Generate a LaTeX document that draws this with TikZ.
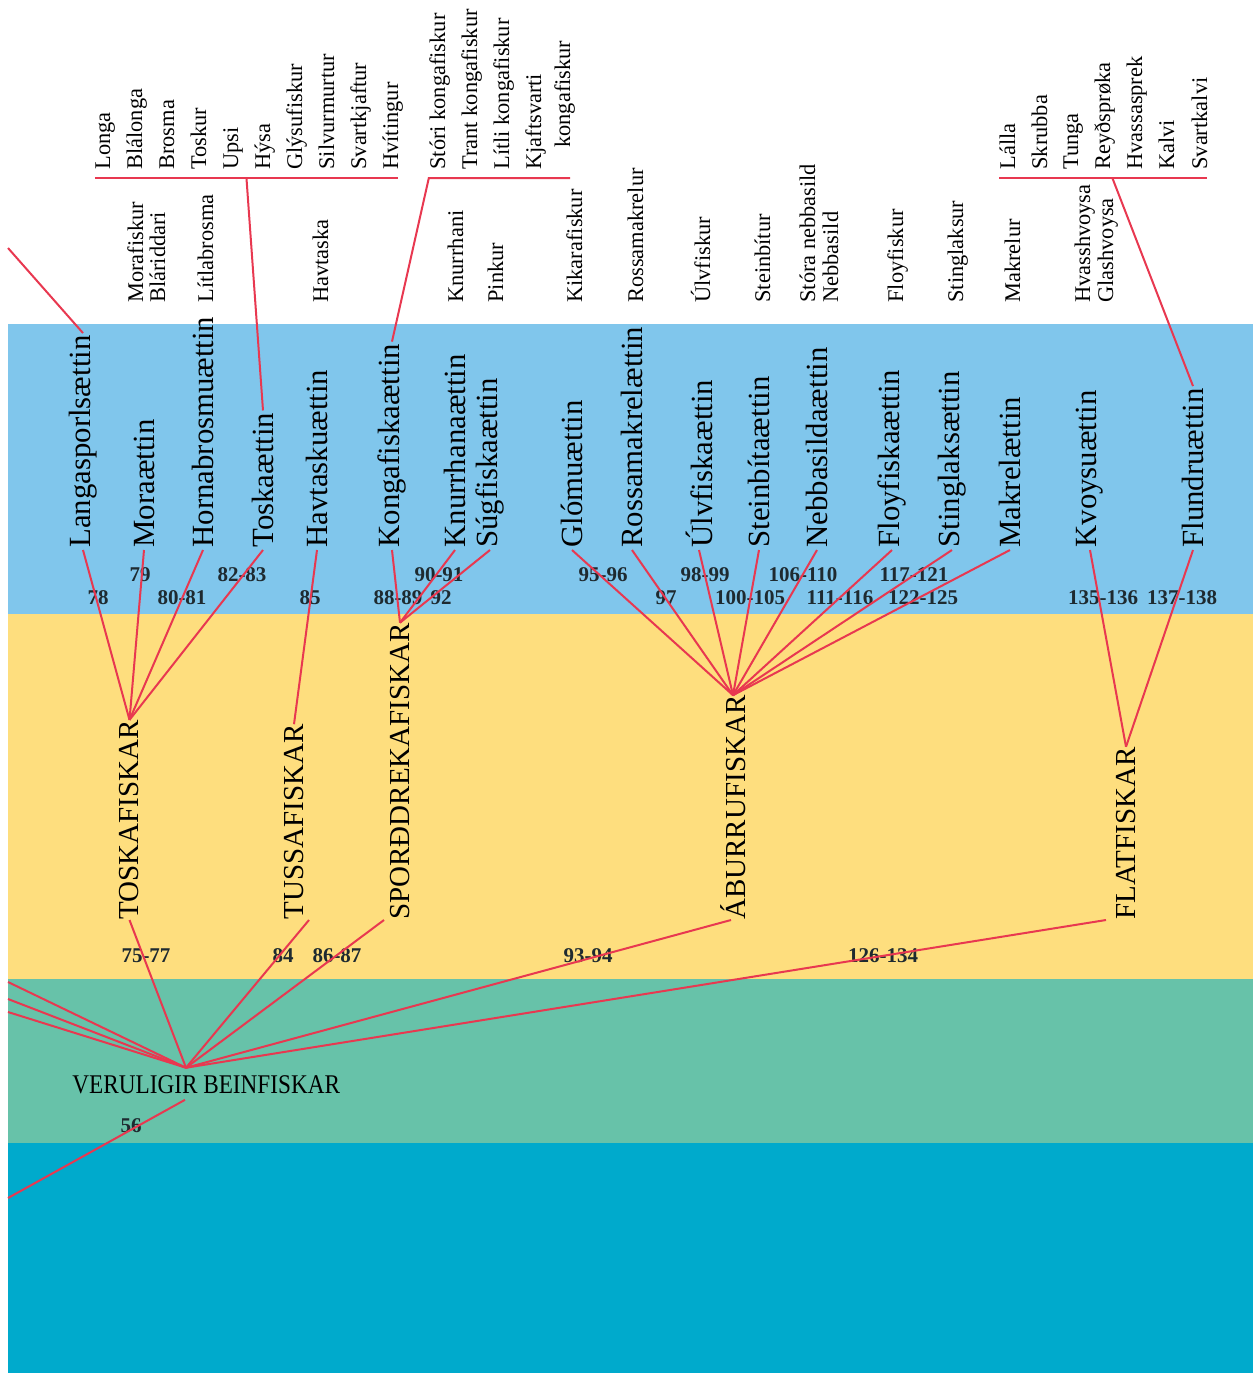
\documentclass[tikz,border=0pt]{standalone}
\usepackage{fontspec}
\setmainfont{Liberation Serif}
\usepackage{tikz}
\definecolor{bandblue}{RGB}{128,198,236}
\definecolor{bandyellow}{RGB}{254,222,126}
\definecolor{bandgreen}{RGB}{103,194,169}
\definecolor{bandcyan}{RGB}{0,170,204}
\definecolor{linkred}{RGB}{232,56,80}
\definecolor{numgray}{RGB}{30,42,48}
\tikzset{
  fam/.style={rotate=90, anchor=west, inner sep=1pt,
              font=\fontsize{15.4}{18}\selectfont},
  grp/.style={rotate=90, anchor=west, inner sep=0pt,
              font=\fontsize{14.5}{17}\selectfont},
  spec/.style={rotate=90, anchor=base west, inner sep=0pt,
               font=\fontsize{11.2}{13}\selectfont},
  num/.style={inner sep=0pt, text=numgray,
              font=\fontsize{10.5}{12}\selectfont\bfseries},
  link/.style={draw=linkred, line width=1pt},
}

\begin{document}
\begin{tikzpicture}[x=0.5pt, y=-0.5pt]
  \useasboundingbox (0,0) rectangle (1253,1373);
  % bands
  \fill[bandblue] (8,324) rectangle (1253,614);
  \fill[bandyellow] (8,614) rectangle (1253,979);
  \fill[bandgreen] (8,979) rectangle (1253,1143);
  \fill[bandcyan] (8,1143) rectangle (1253,1373);

  % species, upper row
  \node[spec] (lon) at (110,170) {Longa};
  \node[spec] (blal) at (142,170) {Blálonga};
  \node[spec] (bros) at (174,170) {Brosma};
  \node[spec] (tosku) at (206,170) {Toskur};
  \node[spec] (upsi) at (238,170) {Upsi};
  \node[spec] (hysa) at (270,170) {Hýsa};
  \node[spec] (glys) at (302,170) {Glýsufiskur};
  \node[spec] (silv) at (334,170) {Silvurmurtur};
  \node[spec] (svart) at (366,170) {Svartkjaftur};
  \node[spec] (hvit) at (398,170) {Hvítingur};
  \node[spec] (stori) at (445,170) {Stóri kongafiskur};
  \node[spec] (trant) at (477,170) {Trant kongafiskur};
  \node[spec] (litli) at (509,170) {Lítli kongafiskur};
  \node[spec] (kjaft) at (541,170) {Kjaftsvarti};
  \node[spec] (kjaftb) at (570,148) {kongafiskur};
  \node[spec] (lalla) at (1015,170) {Lálla};
  \node[spec] (skrub) at (1047,170) {Skrubba};
  \node[spec] (tunga) at (1078,170) {Tunga};
  \node[spec] (reyd) at (1110,170) {Reyðsprøka};
  \node[spec] (hvass) at (1142,170) {Hvassasprek};
  \node[spec] (kalvi) at (1174,170) {Kalvi};
  \node[spec] (svkal) at (1207,170) {Svartkalvi};

  % species, lower row
  \node[spec] (morf) at (143,303) {Morafiskur};
  \node[spec] (blar) at (165,303) {Bláriddari};
  \node[spec] (litb) at (213,303) {Lítlabrosma};
  \node[spec] (havs) at (328,303) {Havtaska};
  \node[spec] (knh) at (463,303) {Knurrhani};
  \node[spec] (pink) at (503,303) {Pinkur};
  \node[spec] (kik) at (582,303) {Kikarafiskur};
  \node[spec] (rosm) at (643,303) {Rossamakrelur};
  \node[spec] (ulvf) at (710,303) {Úlvfiskur};
  \node[spec] (steinb) at (770,303) {Steinbítur};
  \node[spec] (storn) at (815,303) {Stóra nebbasild};
  \node[spec] (nebs) at (838,303) {Nebbasild};
  \node[spec] (floyf) at (903,303) {Floyfiskur};
  \node[spec] (stingl) at (963,303) {Stinglaksur};
  \node[spec] (makrl) at (1020,303) {Makrelur};
  \node[spec] (hvash) at (1090,303) {Hvasshvoysa};
  \node[spec] (glas) at (1113,303) {Glashvoysa};

  % families
  \node[fam] (langa) at (83,550) {Langasporlsættin};
  \node[fam] (mora) at (144,550) {Moraættin};
  \node[fam] (horn) at (203,550) {Hornabrosmuættin};
  \node[fam] (tosk) at (263,550) {Toskaættin};
  \node[fam] (havt) at (317,550) {Havtaskuættin};
  \node[fam] (kong) at (392,550) {Kongafiskaættin};
  \node[fam] (knur) at (455,550) {Knurrhanaættin};
  \node[fam] (sug) at (490,550) {Súgfiskaættin};
  \node[fam] (glom) at (572,550) {Glómuættin};
  \node[fam] (ross) at (632,550) {Rossamakrelættin};
  \node[fam] (ulv) at (699,550) {Úlvfiskaættin};
  \node[fam] (stein) at (759,550) {Steinbítaættin};
  \node[fam] (nebb) at (817,550) {Nebbasildaættin};
  \node[fam] (floy) at (892,550) {Floyfiskaættin};
  \node[fam] (sting) at (952,550) {Stinglaksættin};
  \node[fam] (makr) at (1010,550) {Makrelættin};
  \node[fam] (kvoy) at (1090,550) {Kvoysuættin};
  \node[fam] (flund) at (1193,550) {Flundruættin};

  % orders
  \node[grp] (toskaf) at (129.5,920) {TOSKAFISKAR};
  \node[grp] (tussaf) at (294,920) {TUSSAFISKAR};
  \node[grp] (spord) at (400,920) {SPORÐDREKAFISKAR};
  \node[grp] (aburr) at (733,920) {ÁBURRUFISKAR};
  \node[grp] (flatf) at (1126,920) {FLATFISKAR};
  \node[anchor=base west, inner sep=0pt, font=\fontsize{13.5}{16}\selectfont]
    (vb) at (72,1093) {\scalebox{0.86}[1]{VERULIGIR BEINFISKAR}};

  % numbers
  \node[num] (n79) at (140,575) {79};
  \node[num] (n8283) at (242,575) {82-83};
  \node[num] (n78) at (98,598) {78};
  \node[num] (n8081) at (182,598) {80-81};
  \node[num] (n85) at (310,598) {85};
  \node[num] (n8889) at (398,598) {88-89};
  \node[num] (n9091) at (439,575) {90-91};
  \node[num] (n92) at (441,598) {92};
  \node[num] (n9596) at (603,575) {95-96};
  \node[num] (n97) at (666,598) {97};
  \node[num] (n9899) at (705,575) {98-99};
  \node[num] (n100) at (750,598) {100-105};
  \node[num] (n106) at (803,575) {106-110};
  \node[num] (n111) at (840,598) {111-116};
  \node[num] (n117) at (914,575) {117-121};
  \node[num] (n122) at (923,598) {122-125};
  \node[num] (n135) at (1103,598) {135-136};
  \node[num] (n137) at (1182,598) {137-138};
  \node[num] (n7577) at (146,956) {75-77};
  \node[num] (n84) at (283,956) {84};
  \node[num] (n8687) at (337,956) {86-87};
  \node[num] (n9394) at (588,956) {93-94};
  \node[num] (n126) at (883,956) {126-134};
  \node[num] (n56) at (131,1126) {56};

  % ends and joints
  \coordinate (vbup) at ([xshift=57pt,yshift=3.5pt]vb.north west);
  \coordinate (vbdown) at ([xshift=56.5pt,yshift=-3pt]vb.south west);
  \coordinate (offtop) at (8,248);
  \coordinate (offa) at (8,982);
  \coordinate (offb) at (8,999);
  \coordinate (offc) at (8,1012);
  \coordinate (offbot) at (8,1198);
  \coordinate (kongbr) at ([yshift=-4pt]stori.north west);

  % brackets
  \draw[link] ([yshift=-4pt]lon.north west) -- coordinate[pos=0.5] (toskbr) ([yshift=-4pt]hvit.base west);
  \draw[link] (kong.east) -- (kongbr) -- (kongbr -| kjaftb.base west);
  \draw[link] ([yshift=-4pt]lalla.north west) -- coordinate[pos=0.545] (flundbr) ([yshift=-4pt]svkal.base west);
  \draw[link] (tosk.east) -- (toskbr);
  \draw[link] (flund.east) -- (flundbr);
  \draw[link] (langa.east) -- (offtop);

  % families to orders
  \draw[link] (langa.west) -- (toskaf.east);
  \draw[link] (mora.west) -- (toskaf.east);
  \draw[link] (horn.west) -- (toskaf.east);
  \draw[link] (tosk.west) -- (toskaf.east);
  \draw[link] (havt.west) -- (tussaf.east);
  \draw[link] (kong.west) -- (spord.east);
  \draw[link] (knur.west) -- (spord.east);
  \draw[link] (sug.west) -- (spord.east);
  \draw[link] (glom.west) -- (aburr.east);
  \draw[link] (ross.west) -- (aburr.east);
  \draw[link] (ulv.west) -- (aburr.east);
  \draw[link] (stein.west) -- (aburr.east);
  \draw[link] (nebb.west) -- (aburr.east);
  \draw[link] (floy.west) -- (aburr.east);
  \draw[link] (sting.west) -- (aburr.east);
  \draw[link] (makr.west) -- (aburr.east);
  \draw[link] (kvoy.west) -- (flatf.east);
  \draw[link] (flund.west) -- (flatf.east);

  % orders to bony fishes
  \draw[link] (toskaf.west) -- (vbup);
  \draw[link] ([xshift=7.5pt]tussaf.west) -- (vbup);
  \draw[link] ([xshift=-8pt]spord.west) -- (vbup);
  \draw[link] ([xshift=-1pt]aburr.west) -- (vbup);
  \draw[link] ([xshift=-10pt]flatf.west) -- (vbup);
  \draw[link] (offa) -- (vbup);
  \draw[link] (offb) -- (vbup);
  \draw[link] (offc) -- (vbup);
  \draw[link] (vbdown) -- (offbot);
\end{tikzpicture}
\end{document}
